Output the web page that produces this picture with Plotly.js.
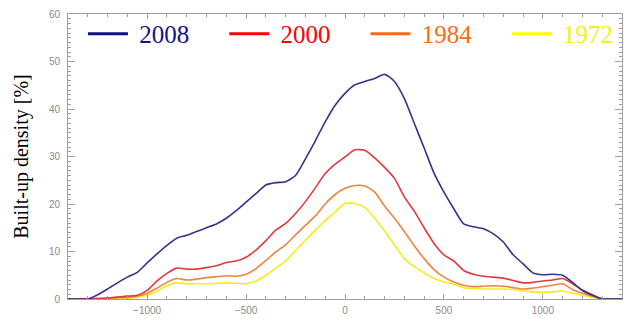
<!DOCTYPE html>
<html>
<head>
<meta charset="utf-8">
<script src="https://cdn.plot.ly/plotly-3.0.1.min.js"></script>
<style>html,body{margin:0;padding:0;background:#fff}#chart{width:627px;height:320px}</style>
</head>
<body>
<div id="chart"></div>
<script>
const distance = [-1400,-1350,-1300,-1250,-1200,-1150,-1100,-1050,-1000,-950,-900,-850,-800,-750,-700,-650,-600,-550,-500,-450,-400,-350,-300,-250,-200,-150,-100,-50,0,50,100,150,200,250,300,350,400,450,500,550,600,650,700,750,800,850,900,950,1000,1050,1100,1150,1200,1250,1300,1350,1400];
const density2008 = [0,0,0,0.9,2.1,3.4,4.6,5.6,7.6,9.5,11.3,12.8,13.4,14.2,15.0,15.8,17.0,18.6,20.4,22.2,24.0,24.5,24.7,26.0,29.5,33.3,37.3,40.8,43.3,45.1,45.8,46.4,47.3,45.8,42.2,37.0,31.8,26.5,22.5,19.0,15.8,15.2,14.8,13.7,12.0,9.3,7.4,5.5,5.1,5.2,5.0,3.5,1.8,0.8,0,0,0];
const density2000 = [0,0,0,0.1,0.2,0.4,0.6,0.8,1.8,3.8,5.4,6.5,6.3,6.3,6.6,7.0,7.7,8.0,8.8,10.3,12.3,14.5,15.9,18.0,20.5,23.4,26.4,28.4,29.9,31.4,31.3,29.7,27.7,25.4,21.5,18.5,15.0,11.7,9.3,8.0,6.0,5.2,4.8,4.6,4.4,3.9,3.4,3.5,3.8,4.0,4.3,3.2,1.9,0.9,0,0,0];
const density1984 = [0,0,0,0.1,0.2,0.3,0.4,0.6,1.2,2.3,3.5,4.3,4.0,4.2,4.5,4.7,4.9,4.8,5.2,6.4,8.1,9.9,11.4,13.5,15.5,17.5,20.0,22.0,23.3,23.9,23.8,22.5,19.6,17.0,14.2,11.2,8.5,6.2,4.6,3.6,2.9,2.6,2.7,2.8,2.7,2.4,2.1,2.3,2.6,2.9,3.2,2.0,1.2,0.6,0,0,0];
const density1972 = [0,0,0,0,0,0,0.1,0.3,0.8,1.7,2.8,3.4,3.2,3.2,3.2,3.3,3.4,3.3,3.2,3.8,5.0,6.5,8.0,10.2,12.4,14.5,16.5,18.3,20.1,20.1,19.3,17.0,14.3,11.4,8.5,6.8,5.5,4.3,3.6,3.1,2.4,2.2,2.1,2.1,2.1,2.0,1.7,1.5,1.4,1.5,1.7,1.2,0.8,0.4,0,0,0];
const years = ['2008','2000','1984','1972'];
const xTicks = [-1000,-500,0,500,1000];
const yTicks = [0,10,20,30,40,50,60];

const seriesByYear = {'2008':density2008,'2000':density2000,'1984':density1984,'1972':density1972};
const plotColor = {'2008':'#34348c','2000':'#e23a3e','1984':'#ef8442','1972':'#f2ee1e'};
const legendColor = {'2008':'#101080','2000':'#ff0000','1984':'#ff6a12','1972':'#ffff00'};
const textColor = {'2008':'#14148c','2000':'#ff0000','1984':'#ff6a12','1972':'#f4f400'};

const traces = [];
['1972','1984','2000','2008'].forEach(y => {
  traces.push({x: distance, y: seriesByYear[y], type:'scatter', mode:'lines',
    line:{color:plotColor[y], width:1.6, shape:'spline', smoothing:0.6}, showlegend:false, hoverinfo:'skip'});
});
years.forEach((y, i) => {
  const pad = i < years.length - 1 ? '\u00a0\u00a0\u00a0\u00a0\u2009' : '';
  traces.push({x:[null], y:[null], type:'scatter', mode:'lines',
    line:{color:legendColor[y], width:3},
    name:'<span style="color:'+textColor[y]+'">\u00a0'+y+pad+'</span>'});
});

const axisCommon = {showgrid:false, zeroline:false, showline:true, linecolor:'#a0a0a0', linewidth:1,
  mirror:'allticks', ticks:'inside', tickcolor:'#a0a0a0',
  tickfont:{family:'Liberation Sans, Arial, sans-serif', size:10, color:'#8a8a8a'}};

const layout = {
  width:627, height:320,
  margin:{l:68, r:5, t:14, b:21},
  paper_bgcolor:'#fff', plot_bgcolor:'#fff',
  showlegend:true,
  legend:{orientation:'h', x:0.027, xanchor:'left', y:0.93, yanchor:'middle',
    font:{family:'Liberation Serif, Times New Roman, serif', size:25, color:'#000'},
    bgcolor:'rgba(0,0,0,0)', itemwidth:40, tracegroupgap:0},
  xaxis:Object.assign({}, axisCommon, {range:[-1400,1400], tickvals:xTicks, ticklen:5,
    minor:{dtick:100, ticks:'inside', ticklen:3, tickcolor:'#a0a0a0'}, ticklabelstandoff:2}),
  yaxis:Object.assign({}, axisCommon, {range:[0,60], tickvals:yTicks, ticklen:7,
    minor:{dtick:1, ticks:'inside', ticklen:3, tickcolor:'#a0a0a0'}, ticklabelstandoff:5,
    title:{text:'Built-up density [%]', standoff:14, font:{family:'Liberation Serif, Times New Roman, serif', size:20, color:'#000'}}})
};

Plotly.newPlot('chart', traces, layout, {staticPlot:true, displayModeBar:false});
</script>
</body>
</html>
